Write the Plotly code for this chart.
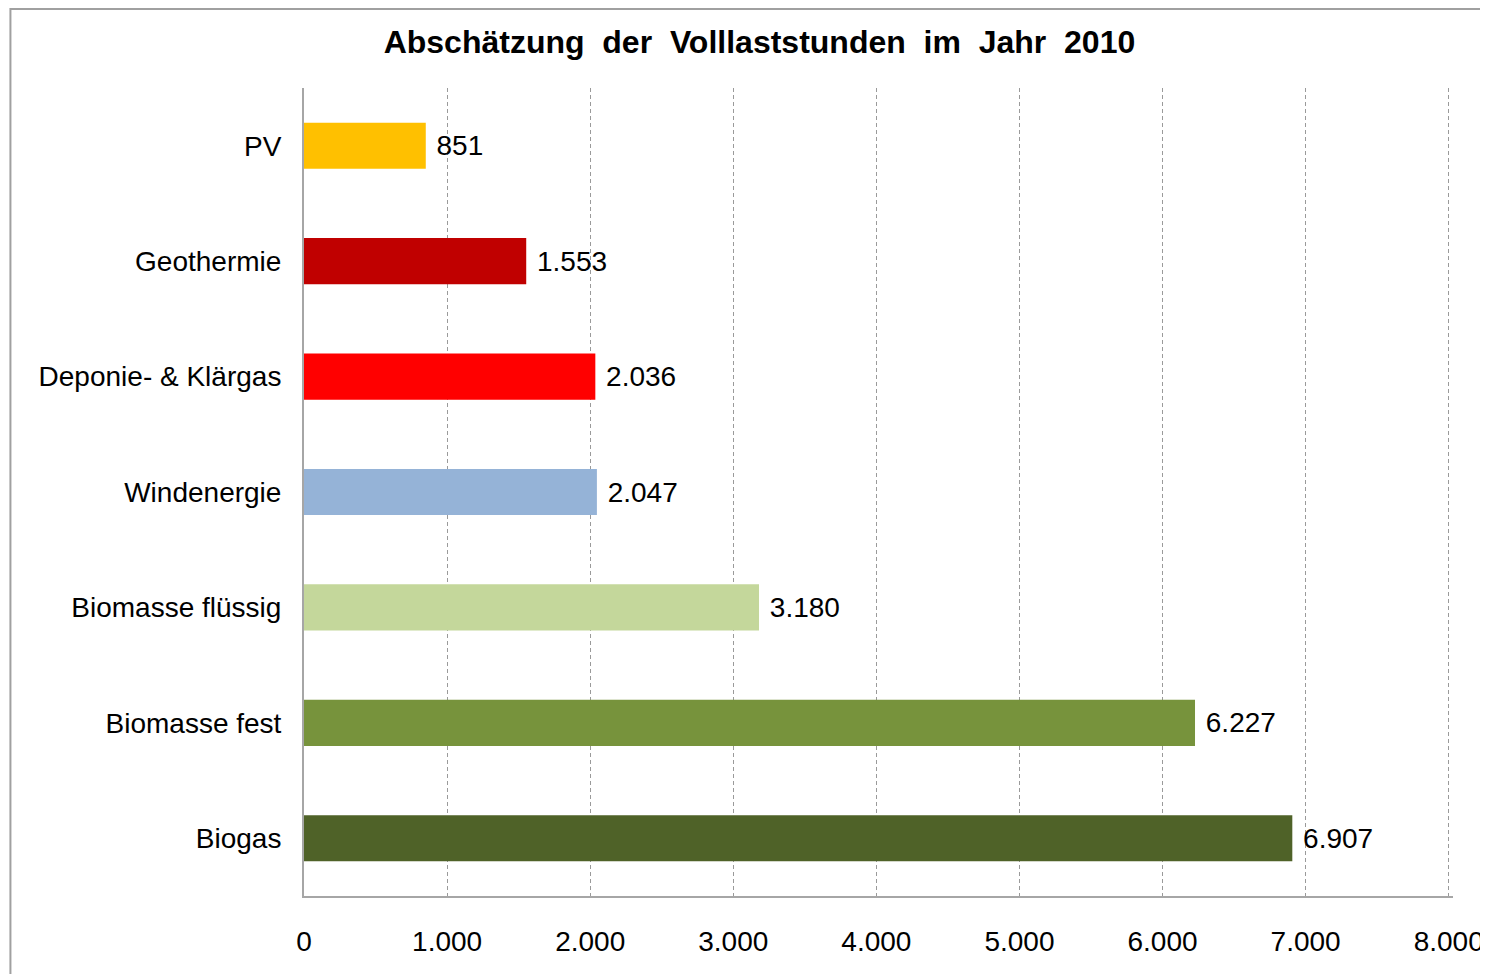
import plotly.graph_objects as go

# Daten
kategorien = ["PV", "Geothermie", "Deponie- & Klärgas", "Windenergie",
              "Biomasse flüssig", "Biomasse fest", "Biogas"]
stunden = [851, 1553, 2036, 2047, 3180, 6227, 6907]
farben = ["#FFC000", "#C00000", "#FF0000", "#95B3D7", "#C4D79B", "#77933C", "#4F6228"]
x_ticks = [0, 1000, 2000, 3000, 4000, 5000, 6000, 7000, 8000]

FONT = "Liberation Sans, Arial, sans-serif"

fig = go.Figure(go.Bar(
    x=stunden,
    y=kategorien,
    orientation="h",
    marker=dict(color=farben, line=dict(width=0)),
    width=0.4,
    texttemplate="\u00a0%{x:,}",
    textposition="outside",
    textfont=dict(size=28, color="black", family=FONT),
    cliponaxis=False,
))

fig.update_xaxes(
    range=[0, 8030],
    tickvals=x_ticks,
    tickformat=",",
    showgrid=True,
    gridcolor="#9a9a9a",
    griddash="4px,3px",
    gridwidth=1,
    showline=True,
    linecolor="#a6a6a6",
    linewidth=2,
    zeroline=False,
    ticks="outside",
    ticklen=19,
    tickcolor="rgba(0,0,0,0)",
    tickfont=dict(size=28, color="black", family=FONT),
)
fig.update_yaxes(
    autorange="reversed",
    showline=True,
    linecolor="#a6a6a6",
    linewidth=2,
    showgrid=False,
    ticks="outside",
    ticklen=15,
    tickcolor="rgba(0,0,0,0)",
    tickfont=dict(size=28, color="black", family=FONT),
)

# Rahmen des Diagrammbereichs
fig.add_shape(type="rect", xref="paper", yref="paper",
              x0=-0.2555, x1=1.05, y0=-0.12, y1=1.0978,
              line=dict(color="#a0a0a0", width=2), layer="below")

fig.update_layout(
    title=dict(text="<b>Abschätzung  der  Volllaststunden  im  Jahr  2010</b>",
               x=0.505, xanchor="center", y=0.965, yanchor="middle",
               font=dict(size=32, color="black", family=FONT)),
    separators=",.",
    width=1488,
    height=974,
    margin=dict(l=296, r=41, t=80, b=86),
    plot_bgcolor="white",
    paper_bgcolor="white",
    showlegend=False,
)

fig.write_html("out.html")
